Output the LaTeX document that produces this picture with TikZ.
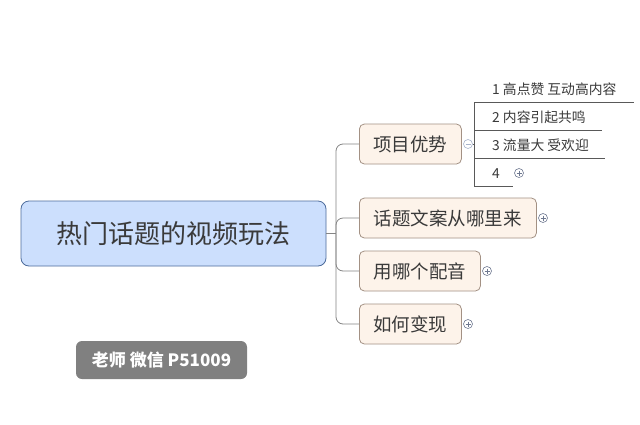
\documentclass[tikz,border=0pt]{standalone}
\usepackage{fontspec}
\newfontfamily\cjk{Noto Sans CJK SC}
\usetikzlibrary{calc}
\definecolor{rootfill}{HTML}{CCDFFD}
\definecolor{rootdraw}{HTML}{4D6C9C}
\definecolor{childfill}{HTML}{FDF3EA}
\definecolor{childdraw}{HTML}{A39184}
\definecolor{txt}{HTML}{3A3A3A}
\definecolor{conn}{HTML}{858585}
\definecolor{markcol}{HTML}{6E7890}
\definecolor{marklight}{HTML}{A8B4CC}
\tikzset{
  rootbox/.style={draw=rootdraw, line width=0.8pt, fill=rootfill, rounded corners=8pt,
    minimum width=305pt, minimum height=65pt, inner sep=0pt,
    font=\cjk\fontsize{26}{30}\selectfont, text=txt},
  childbox/.style={draw=childdraw, line width=0.8pt, fill=childfill, rounded corners=5pt,
    minimum height=40pt, inner sep=0pt, anchor=west,
    font=\cjk\fontsize{18.5}{22}\selectfont, text=txt},
  subtext/.style={anchor=base west, inner sep=0pt, font=\cjk\fontsize{13.8}{16}\selectfont, text=txt},
  connline/.style={draw=conn, line width=0.8pt},
  subline/.style={draw=black!65, line width=0.8pt},
  labelbox/.style={fill=black!50, rounded corners=6pt, minimum width=171pt, minimum height=38pt,
    inner sep=0pt, font=\cjk\bfseries\fontsize{17}{20}\selectfont, text=white},
  markcirc/.style={circle, draw=markcol, line width=0.6pt, fill=white, minimum size=9pt, inner sep=0pt},
  markstroke/.style={draw=markcol, line width=0.7pt},
}
\newcommand{\plusmark}[2]{%
  \node[markcirc] (#2) at #1 {};
  \draw[markstroke] ($(#2)+(-2.5,0)$) -- ($(#2)+(2.5,0)$);
  \draw[markstroke] ($(#2)+(0,-2.5)$) -- ($(#2)+(0,2.5)$);
}
\begin{document}
\begin{tikzpicture}[x=1pt,y=-1pt]
\useasboundingbox (0,0) rectangle (640,424);
\fill[white] (0,0) rectangle (640,424);

% root
\node[rootbox] (root) at (173.5,233.5) {热门话题的视频玩法};

% children
\node[childbox, minimum width=102pt] (c1) at (359,144) {项目优势};
\node[childbox, minimum width=177pt] (c2) at (359,218) {话题文案从哪里来};
\node[childbox, minimum width=121pt] (c3) at (359,271) {用哪个配音};
\node[childbox, minimum width=102pt] (c4) at (359,324) {如何变现};

% connectors
\coordinate (j) at (336,233.5);
\draw[connline] (root.east) -- (j);
\foreach \c in {c1,c2,c3,c4}{
  \draw[connline, rounded corners=7pt] (j) |- (\c.west);
}

% collapse marker on c1
\node[markcirc, draw=marklight] (m1) at (468,144) {};
\draw[markstroke, draw=marklight] ($(m1)+(-2.5,0)$) -- ($(m1)+(2.5,0)$);

% sub items
\coordinate (v1) at (474,102);
\coordinate (v2) at (474,130);
\coordinate (v3) at (474,158);
\coordinate (v4) at (474,186);
\coordinate (e1) at (634,102);
\coordinate (e2) at (602,130);
\coordinate (e3) at (605,158);
\coordinate (e4) at (513,186);
\draw[subline] (m1.east) -- (v1 |- m1.east);
\draw[subline] (v1) -- (v4);
\draw[subline] (v1) -- (e1);
\draw[subline] (v2) -- (e2);
\draw[subline] (v3) -- (e3);
\draw[subline] (v4) -- (e4);
\node[subtext] (s1) at (492,94) {1 高点赞 互动高内容};
\node[subtext] (s2) at (492,122) {2 内容引起共鸣};
\node[subtext] (s3) at (492,150) {3 流量大 受欢迎};
\node[subtext] (s4) at (492,178) {4};

% expand markers
\plusmark{(519,173)}{p4}
\plusmark{(543,218)}{p2}
\plusmark{(487,271)}{p3}
\plusmark{(468,324)}{p5}

% label
\node[labelbox] (lab) at (161.5,360) {老师 微信 P51009};
\end{tikzpicture}
\end{document}
